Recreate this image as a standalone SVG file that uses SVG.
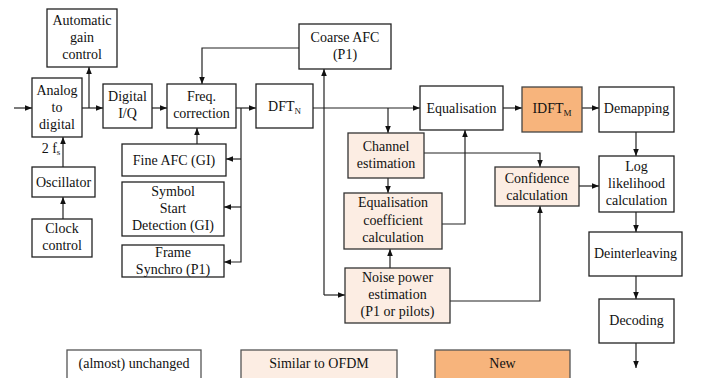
<svg xmlns="http://www.w3.org/2000/svg" width="718" height="378" viewBox="0 0 718 378">
<style>
text{font-family:'Liberation Serif','Times New Roman',serif !important;font-size:14px;fill:#111;text-anchor:middle}
.sub{font-size:9px}
</style>
<defs>
<marker id="a" viewBox="0 0 10 10" refX="10" refY="5" markerWidth="7" markerHeight="7" markerUnits="userSpaceOnUse" orient="auto">
<path d="M0,1 L10,5 L0,9 z" fill="#111"/>
</marker>
</defs>
<rect width="718" height="378" fill="#fff"/>
<g id="connectors" fill="none" stroke="#222" stroke-width="1.2" marker-end="url(#a)">
<path d="M14,108 H32"/>
<path d="M82,108 H103"/>
<path d="M89,108 V67"/>
<path d="M152,108 H167"/>
<path d="M236,108 H256"/>
<path d="M241,108 V262 H224"/>
<path d="M241,159 H226"/>
<path d="M241,207 H224"/>
<path d="M197,144 V128"/>
<path d="M63,167 V137"/>
<path d="M63,219 V197"/>
<path d="M299,48 H202 V84"/>
<path d="M313,108 H420"/>
<path d="M324,295 V69"/>
<path d="M324,295 H345"/>
<path d="M388,108 V133"/>
<path d="M388,178 V193"/>
<path d="M442,224 H465 V130"/>
<path d="M424,153 H540 V167"/>
<path d="M390,268 V249"/>
<path d="M450,301 H540 V206"/>
<path d="M579,186 H599"/>
<path d="M503,108 H522"/>
<path d="M582,108 H599"/>
<path d="M636,132 V156"/>
<path d="M636,212 V232"/>
<path d="M636,276 V299"/>
<path d="M636,343 V368"/>
</g>
<g stroke-width="1.3">
<g id="agc"><rect fill="#fff" stroke="#222" x="47" y="9" width="70" height="58"/><text style="font-family:'Liberation Serif',serif !important" x="82" y="25">Automatic</text><text style="font-family:'Liberation Serif',serif !important" x="82" y="42">gain</text><text style="font-family:'Liberation Serif',serif !important" x="82" y="59">control</text></g>
<g id="adc"><rect fill="#fff" stroke="#222" x="32" y="78" width="50" height="59"/><text style="font-family:'Liberation Serif',serif !important" x="57" y="95">Analog</text><text style="font-family:'Liberation Serif',serif !important" x="57" y="112">to</text><text style="font-family:'Liberation Serif',serif !important" x="57" y="129">digital</text></g>
<g id="fs"><text style="font-family:'Liberation Serif',serif !important" x="51" y="153">2 f<tspan class="sub" dy="2">s</tspan></text></g>
<g id="iq"><rect fill="#fff" stroke="#222" x="103" y="84" width="49" height="44"/><text style="font-family:'Liberation Serif',serif !important" x="127.5" y="101">Digital</text><text style="font-family:'Liberation Serif',serif !important" x="127.5" y="118">I/Q</text></g>
<g id="freq"><rect fill="#fff" stroke="#222" x="167" y="84" width="69" height="44"/><text style="font-family:'Liberation Serif',serif !important" x="201.5" y="101">Freq.</text><text style="font-family:'Liberation Serif',serif !important" x="201.5" y="118">correction</text></g>
<g id="dft"><rect fill="#fff" stroke="#222" x="256" y="84" width="57" height="44"/><text style="font-family:'Liberation Serif',serif !important" x="284.5" y="111">DFT<tspan class="sub" dy="3">N</tspan></text></g>
<g id="coarse"><rect fill="#fff" stroke="#222" x="299" y="24" width="92" height="45"/><text style="font-family:'Liberation Serif',serif !important" x="345" y="42">Coarse AFC</text><text style="font-family:'Liberation Serif',serif !important" x="345" y="59">(P1)</text></g>
<g id="equal"><rect fill="#fff" stroke="#222" x="420" y="86" width="83" height="44"/><text style="font-family:'Liberation Serif',serif !important" x="461.5" y="113">Equalisation</text></g>
<g id="idft"><rect fill="#F7B47C" stroke="#444" x="522" y="87" width="60" height="45"/><text style="font-family:'Liberation Serif',serif !important" x="552" y="113">IDFT<tspan class="sub" dy="3">M</tspan></text></g>
<g id="demap"><rect fill="#fff" stroke="#222" x="599" y="87" width="75" height="45"/><text style="font-family:'Liberation Serif',serif !important" x="636.5" y="113">Demapping</text></g>
<g id="fineafc"><rect fill="#fff" stroke="#222" x="122" y="144" width="104" height="32"/><text style="font-family:'Liberation Serif',serif !important" x="174" y="165">Fine AFC (GI)</text></g>
<g id="ssd"><rect fill="#fff" stroke="#222" x="122" y="182" width="102" height="54"/><text style="font-family:'Liberation Serif',serif !important" x="173" y="196">Symbol</text><text style="font-family:'Liberation Serif',serif !important" x="173" y="213">Start</text><text style="font-family:'Liberation Serif',serif !important" x="173" y="230">Detection (GI)</text></g>
<g id="frame"><rect fill="#fff" stroke="#222" x="122" y="245" width="102" height="32"/><text style="font-family:'Liberation Serif',serif !important" x="173" y="257">Frame</text><text style="font-family:'Liberation Serif',serif !important" x="173" y="274">Synchro (P1)</text></g>
<g id="osc"><rect fill="#fff" stroke="#222" x="32" y="167" width="63" height="30"/><text style="font-family:'Liberation Serif',serif !important" x="63.5" y="187">Oscillator</text></g>
<g id="clock"><rect fill="#fff" stroke="#222" x="32" y="219" width="60" height="38"/><text style="font-family:'Liberation Serif',serif !important" x="62" y="233">Clock</text><text style="font-family:'Liberation Serif',serif !important" x="62" y="250">control</text></g>
<g id="chan"><rect fill="#FCEDE3" stroke="#333" x="348" y="133" width="76" height="45"/><text style="font-family:'Liberation Serif',serif !important" x="386" y="151">Channel</text><text style="font-family:'Liberation Serif',serif !important" x="386" y="168">estimation</text></g>
<g id="eqcoef"><rect fill="#FCEDE3" stroke="#333" x="344" y="193" width="98" height="56"/><text style="font-family:'Liberation Serif',serif !important" x="393" y="207">Equalisation</text><text style="font-family:'Liberation Serif',serif !important" x="393" y="224.5">coefficient</text><text style="font-family:'Liberation Serif',serif !important" x="393" y="242">calculation</text></g>
<g id="noise"><rect fill="#FCEDE3" stroke="#333" x="345" y="268" width="105" height="55"/><text style="font-family:'Liberation Serif',serif !important" x="397.5" y="282">Noise power</text><text style="font-family:'Liberation Serif',serif !important" x="397.5" y="299">estimation</text><text style="font-family:'Liberation Serif',serif !important" x="397.5" y="316">(P1 or pilots)</text></g>
<g id="conf"><rect fill="#FCEDE3" stroke="#333" x="495" y="167" width="84" height="39"/><text style="font-family:'Liberation Serif',serif !important" x="537" y="183">Confidence</text><text style="font-family:'Liberation Serif',serif !important" x="537" y="200">calculation</text></g>
<g id="llr"><rect fill="#fff" stroke="#222" x="599" y="156" width="75" height="56"/><text style="font-family:'Liberation Serif',serif !important" x="636.5" y="171">Log</text><text style="font-family:'Liberation Serif',serif !important" x="636.5" y="188">likelihood</text><text style="font-family:'Liberation Serif',serif !important" x="636.5" y="205">calculation</text></g>
<g id="deint"><rect fill="#fff" stroke="#222" x="589" y="232" width="93" height="44"/><text style="font-family:'Liberation Serif',serif !important" x="635.5" y="258">Deinterleaving</text></g>
<g id="dec"><rect fill="#fff" stroke="#222" x="599" y="299" width="75" height="44"/><text style="font-family:'Liberation Serif',serif !important" x="636.5" y="325">Decoding</text></g>
<g id="leg1"><rect fill="#fff" stroke="#555" x="67" y="350" width="134" height="40"/><text style="font-family:'Liberation Serif',serif !important" x="134" y="368">(almost) unchanged</text></g>
<g id="leg2"><rect fill="#FCEDE3" stroke="#555" x="241" y="350" width="156" height="40"/><text style="font-family:'Liberation Serif',serif !important" x="319" y="368">Similar to OFDM</text></g>
<g id="leg3"><rect fill="#F7B47C" stroke="#555" x="435" y="350" width="135" height="40"/><text style="font-family:'Liberation Serif',serif !important" x="502.5" y="368">New</text></g>
</g>
</svg>
